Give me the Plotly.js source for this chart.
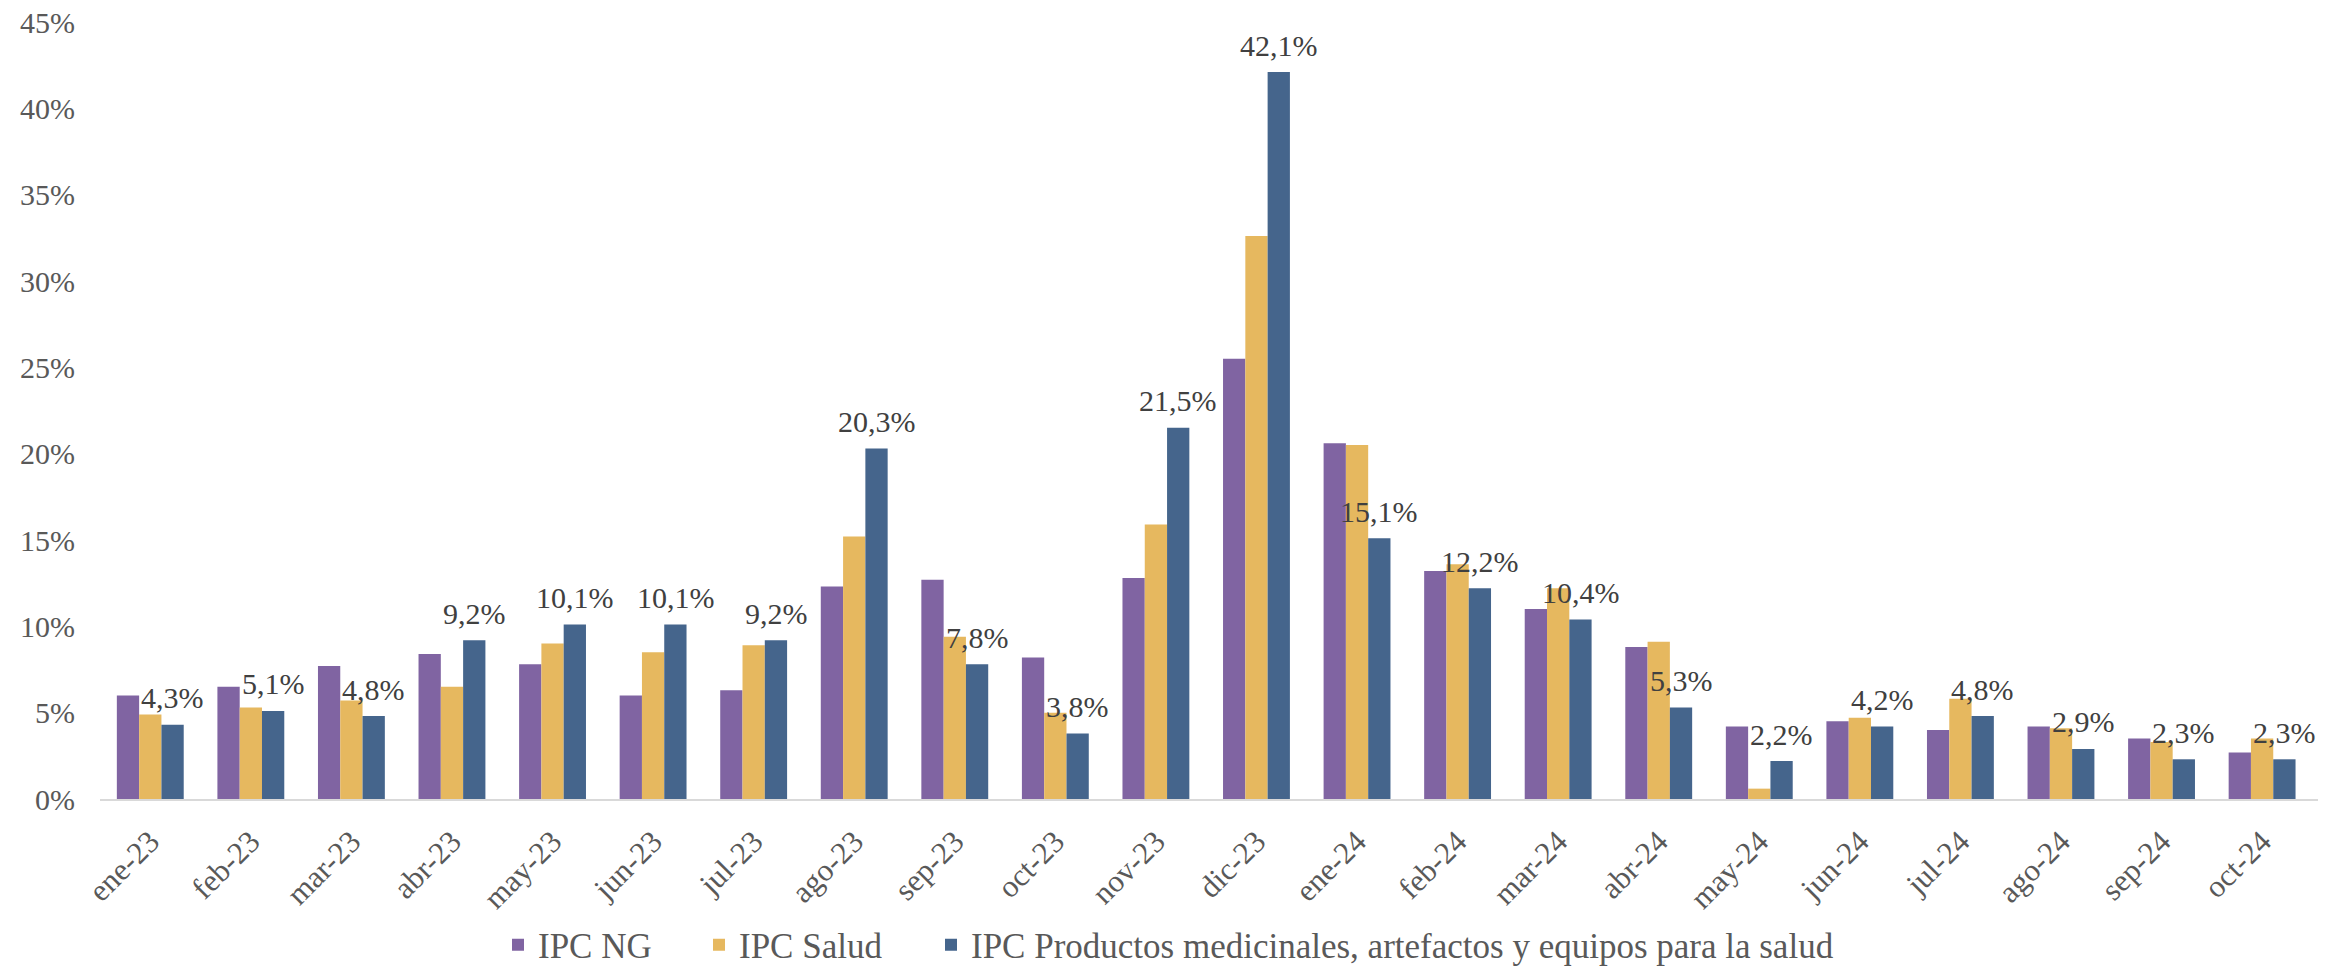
<!DOCTYPE html>
<html>
<head>
<meta charset="utf-8">
<script src="https://cdn.plot.ly/plotly-3.0.1.min.js"></script>
<style>html,body{margin:0;padding:0;background:#fff;}#chart{width:2325px;height:968px;}</style>
</head>
<body>
<div id="chart"></div>
<script>
const months = ["ene-23","feb-23","mar-23","abr-23","may-23","jun-23","jul-23","ago-23","sep-23","oct-23","nov-23","dic-23","ene-24","feb-24","mar-24","abr-24","may-24","jun-24","jul-24","ago-24","sep-24","oct-24"];
const ipcNG = [6.0,6.5,7.7,8.4,7.8,6.0,6.3,12.3,12.7,8.2,12.8,25.5,20.6,13.2,11.0,8.8,4.2,4.5,4.0,4.2,3.5,2.7];
const ipcSalud = [4.9,5.3,5.7,6.5,9.0,8.5,8.9,15.2,9.4,5.0,15.9,32.6,20.5,13.6,12.2,9.1,0.6,4.7,5.8,4.1,3.3,3.5];
const ipcProd = [4.3,5.1,4.8,9.2,10.1,10.1,9.2,20.3,7.8,3.8,21.5,42.1,15.1,12.2,10.4,5.3,2.2,4.2,4.8,2.9,2.3,2.3];
const seriesNames = ["IPC NG","IPC Salud","IPC Productos medicinales, artefactos y equipos para la salud"];
const colors = ["#8064A2","#E6B85F","#45658C"];

const FONT = "Liberation Serif";
const traces = [
  {type:"bar", x:months, y:ipcNG, name:seriesNames[0], marker:{color:colors[0]}, legend:"legend", hoverinfo:"none"},
  {type:"bar", x:months, y:ipcSalud, name:seriesNames[1], marker:{color:colors[1]}, legend:"legend2", hoverinfo:"none"},
  {type:"bar", x:months, y:ipcProd, name:seriesNames[2], marker:{color:colors[2]}, legend:"legend3", hoverinfo:"none"}
];
// data labels on the third series (placed above each bar, centred on it)
const labelAnnotations = months.map((m, i) => ({
  x: m, y: ipcProd[i], xref: "x", yref: "y",
  text: ipcProd[i].toFixed(1).replace(".", ",") + "%",
  showarrow: false, xanchor: "center", yanchor: "middle",
  xshift: 22.4, yshift: 27,
  font: {family: FONT, size: 30, color: "#404040"}
}));
const legendBase = {orientation:"h", yref:"container", yanchor:"middle", y:(968-945)/968, xanchor:"left",
  bgcolor:"rgba(0,0,0,0)", font:{family:FONT, size:35, color:"#595959"}, itemwidth:30};
const layout = {
  width:2325, height:968,
  margin:{l:100, r:7, t:22, b:169},
  paper_bgcolor:"#fff", plot_bgcolor:"#fff",
  separators:",.",
  barmode:"group", bargap:0.335, bargroupgap:0,
  font:{family:FONT, size:30, color:"#595959"},
  xaxis:{type:"category", showgrid:false, showline:true, linecolor:"#D9D9D9", linewidth:2,
    tickangle:-45, ticks:"", tickfont:{family:FONT, size:31, color:"#595959"}, ticklabelstandoff:10, fixedrange:true},
  yaxis:{range:[0,45], dtick:5, tick0:0, ticksuffix:"%", showgrid:false, zeroline:false, showline:false,
    ticks:"", tickfont:{family:FONT, size:30, color:"#595959"}, ticklabelstandoff:24, fixedrange:true},
  annotations: labelAnnotations,
  showlegend:true,
  legend:Object.assign({}, legendBase, {x:(498-100)/2218}),
  legend2:Object.assign({}, legendBase, {x:(699-100)/2218}),
  legend3:Object.assign({}, legendBase, {x:(931-100)/2218})
};
Plotly.newPlot("chart", traces, layout, {displayModeBar:false, staticPlot:true});
</script>
</body>
</html>
